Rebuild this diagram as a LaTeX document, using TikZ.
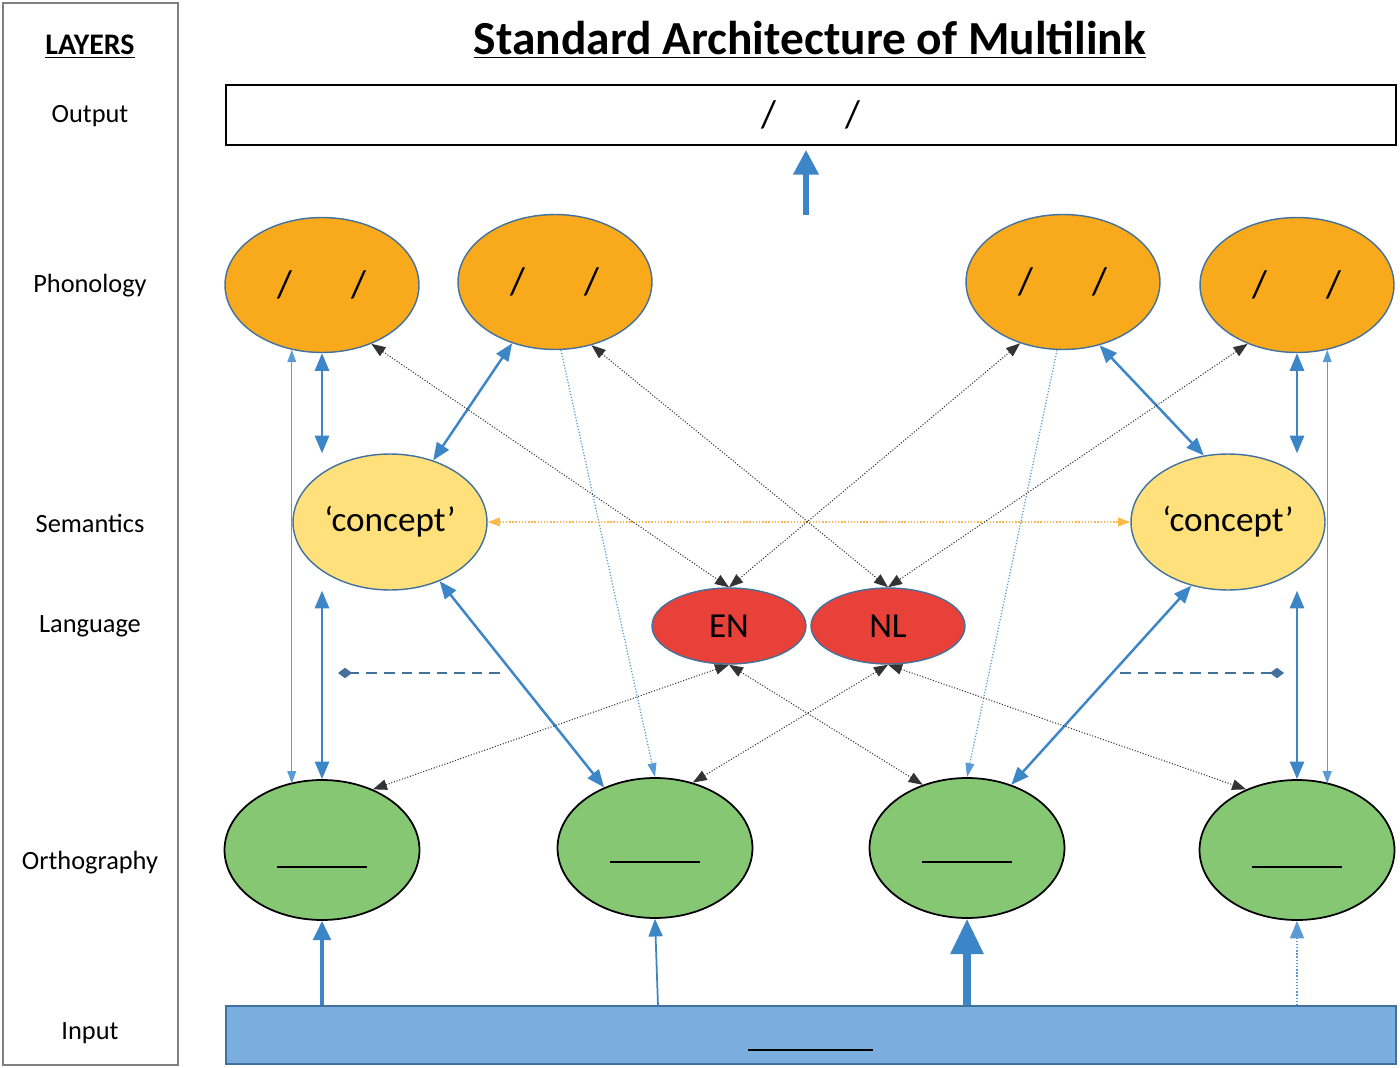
\documentclass[tikz,border=0pt]{standalone}
\usepackage{fontspec}
\setmainfont{Carlito}
\usetikzlibrary{arrows.meta,shapes.geometric}
\definecolor{orng}{HTML}{F9A91C}
\definecolor{yel}{HTML}{FFE07A}
\definecolor{rd}{HTML}{E8413A}
\definecolor{grn}{HTML}{86C774}
\definecolor{bl}{HTML}{3C85C6}
\definecolor{lbl}{HTML}{5B9BD5}
\definecolor{inp}{HTML}{7AAEDE}
\definecolor{edg}{HTML}{41719C}
\begin{document}
\begin{tikzpicture}[x=0.02cm,y=-0.02cm,
  el/.style={ellipse,draw=edg,line width=0.8pt,inner sep=0pt},
  ph/.style={el,fill=orng,minimum width=3.88cm,minimum height=2.7cm,font=\fontsize{22}{24}\selectfont},
  se/.style={el,fill=yel,minimum width=3.88cm,minimum height=2.72cm,font=\fontsize{20}{22}\selectfont},
  la/.style={el,fill=rd,minimum width=3.08cm,minimum height=1.52cm,font=\fontsize{20}{22}\selectfont},
  orth/.style={ellipse,draw=black,line width=1pt,fill=grn,minimum width=3.9cm,minimum height=2.8cm,inner sep=0pt},
  lay/.style={font=\fontsize{15}{17}\selectfont},
  bb/.style={bl,line width=1.4pt,{Triangle[width=8pt,length=10pt]}-{Triangle[width=8pt,length=10pt]}},
  tb/.style={lbl,line width=0.6pt,{Triangle[width=5pt,length=7pt]}-{Triangle[width=5pt,length=7pt]}},
  db/.style={lbl,line width=0.7pt,densely dotted,-{Triangle[width=5pt,length=8pt]}},
  ka/.style={black!80,line width=0.6pt,densely dotted,{Triangle[width=6pt,length=8pt]}-{Triangle[width=6pt,length=8pt]}},
  dsh/.style={edg,line width=0.9pt,dash pattern=on 6pt off 4pt,-{Diamond[width=6pt,length=8pt]}}
]
\useasboundingbox (0,0) rectangle (1400,1068);
\node[draw=black!50,line width=0.8pt,minimum width=3.5cm,minimum height=21.24cm,inner sep=0pt] (panel) at (90.5,534) {};
\node[lay,font=\fontsize{17}{19}\selectfont\bfseries] (layers) at (90,47) {\underline{LAYERS}};
\node[lay] (lo) at (90,116) {Output};
\node[lay] (lp) at (90,286) {Phonology};
\node[lay] (ls) at (90,523) {Semantics};
\node[lay] (ll) at (90,626) {Language};
\node[lay] (lor) at (90,863) {Orthography};
\node[lay] (li) at (90,1033) {Input};
\node[font=\fontsize{27}{30}\selectfont\bfseries] (title) at (810,40) {\underline{Standard Architecture of Multilink}};
\node[draw=black,line width=0.8pt,minimum width=23.4cm,minimum height=1.2cm,inner sep=0pt,font=\fontsize{22}{24}\selectfont] (out) at (811,115) {/\hspace{1.4cm}/};
\node[draw=edg,fill=inp,line width=0.8pt,minimum width=23.4cm,minimum height=1.16cm,inner sep=0pt] (in) at (811,1035) {};
\draw[black,line width=1.2pt] (748,1050) -- (873,1050);
% phonology
\node[ph] (p1) at (322,285) {/\hspace{1.2cm}/};
\node[ph] (p2) at (555,282) {/\hspace{1.2cm}/};
\node[ph] (p3) at (1063,282) {/\hspace{1.2cm}/};
\node[ph] (p4) at (1297,285) {/\hspace{1.2cm}/};
\node[se] (s1) at (390,522) {‘concept’};
\node[se] (s2) at (1228,522) {‘concept’};
\node[la] (en) at (729,626) {EN};
\node[la] (nl) at (888,626) {NL};
\node[orth] (o1) at (322,850) {};
\node[orth] (o2) at (655,848) {};
\node[orth] (o3) at (967,848) {};
\node[orth] (o4) at (1297,850) {};
\foreach \x/\y in {322/867,655/862,967/862,1297/867}{\draw[black,line width=1.4pt] (\x-45,\y) -- (\x+45,\y);}
% output arrow
\coordinate (oa) at (806,215);
\coordinate (ob) at (806,150);
\draw[bl,line width=3pt,-{Triangle[width=14pt,length=14pt]}] (oa) -- (ob);
% thick blue
\draw[bb] (p1.south) -- (s1.north -| p1.south);
\draw[bb] (p2.235) -- (s1.55);
\draw[bb] (s1.south -| o1.north) -- (o1.north);
\draw[bb] (s1.310) -- (o2.130);
\draw[bb] (p3.300) -- (s2.110);
\draw[bb] (p4.south) -- (p4.south |- s2.north);
\draw[bb] (p4.south |- s2.south) -- (o4.north);
\draw[bb] (s2.240) -- (o3.55);
% thin blue
\draw[tb] (p1.245) -- (p1.245 |- o1.117);
\draw[tb] (p4.295) -- (p4.295 |- o4.63);
% dotted blue
\draw[db] (p2.275) -- (o2.north);
\draw[db] (p3.265) -- (o3.north);
% yellow
\draw[orng!80,line width=0.8pt,densely dotted,{Triangle[width=5pt,length=7pt]}-{Triangle[width=5pt,length=7pt]}] (s1.east) -- (s2.west);
% black
\draw[ka] (p1.310) -- (en.north);
\draw[ka] (p2.300) -- (nl.north);
\draw[ka] (p3.235) -- (en.north);
\draw[ka] (p4.230) -- (nl.north);
\draw[ka] (en.south) -- (o1.50);
\draw[ka] (en.south) -- (o3.125);
\draw[ka] (nl.south) -- (o2.60);
\draw[ka] (nl.south) -- (o4.130);
% dashed
\coordinate (d1) at (500,673); \coordinate (d1e) at (338,673);
\coordinate (d2) at (1120,673); \coordinate (d2e) at (1284,673);
\draw[dsh] (d1) -- (d1e);
\draw[dsh] (d2) -- (d2e);
% input arrows
\draw[bl,line width=2.2pt,-{Triangle[width=10pt,length=11pt]}] (in.north -| o1.south) -- (o1.south);
\coordinate (i2) at (658,1006);
\draw[bl,line width=1pt,-{Triangle[width=8pt,length=10pt]}] (i2) -- (o2.south);
\draw[bl,line width=4pt,-{Triangle[width=18pt,length=20pt]}] (in.north -| o3.south) -- (o3.south);
\draw[lbl,line width=0.8pt,densely dotted,-{Triangle[width=8pt,length=10pt]}] (in.north -| o4.south) -- (o4.south);
\end{tikzpicture}
\end{document}
